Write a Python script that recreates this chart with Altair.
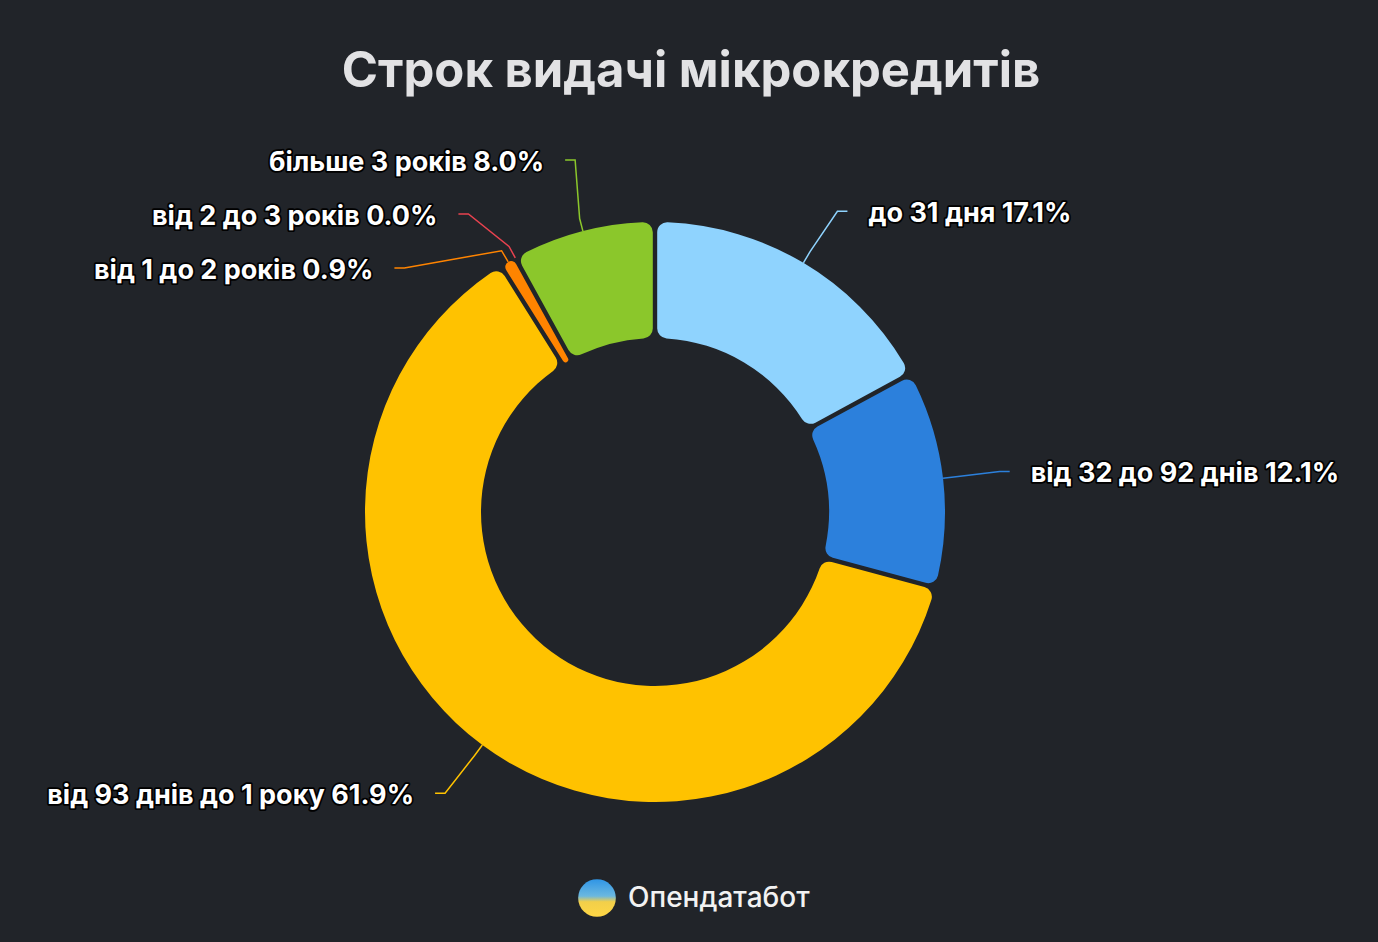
import math
import altair as alt
import pandas as pd

# ---------------- data ----------------
categories = [
    "до 31 дня",
    "від 32 до 92 днів",
    "від 93 днів до 1 року",
    "від 1 до 2 років",
    "від 2 до 3 років",
    "більше 3 років",
]
values = [17.1, 12.1, 61.9, 0.9, 0.0, 8.0]
colors = ["#8fd3fe", "#2c80dc", "#ffc200", "#ff8400", "#e8424f", "#8bc72b"]
title_text = "Строк видачі мікрокредитів"
brand_text = "Опендатабот"

# ---------------- layout ----------------
W, H = 1378, 942
BG = "#212429"
CX, CY = 655, 512
R_OUT, R_IN = 290, 174
R_BREAK = 303
R_LABEL_Y = 350
R_LABEL_X = 357
SPACING = 54
TOP_LIMIT = 160
BOTTOM_LIMIT = 840
CROOK = 10
TEXT_GAP = 21
FONT = "Inter"

total = sum(values)
mids = []
cum = 0.0
for v in values:
    a0 = cum / total * 2 * math.pi
    cum += v
    a1 = cum / total * 2 * math.pi
    mids.append((a0 + a1) / 2)


def distribute(targets, gap, lo, hi):
    """targets: list of (idx, natural_y) sorted by y. Returns dict idx->y."""
    clusters = [[t] for t in targets]

    def place(cl):
        n = len(cl)
        center = sum(t[1] for t in cl) / n
        start = center - (n - 1) * gap / 2
        start = max(lo, min(start, hi - (n - 1) * gap))
        return start

    changed = True
    while changed:
        changed = False
        starts = [place(c) for c in clusters]
        for i in range(len(clusters) - 1):
            if starts[i] + len(clusters[i]) * gap > starts[i + 1]:
                clusters[i] = clusters[i] + clusters[i + 1]
                del clusters[i + 1]
                changed = True
                break
    out = {}
    for c in clusters:
        s = place(c)
        for k, t in enumerate(c):
            out[t[0]] = s + k * gap
    return out


natural = [CY - R_LABEL_Y * math.cos(m) for m in mids]
left_idx = sorted([i for i, m in enumerate(mids) if math.sin(m) < 0], key=lambda i: natural[i])
right_idx = sorted([i for i, m in enumerate(mids) if math.sin(m) >= 0], key=lambda i: natural[i])
label_y = {}
label_y.update(distribute([(i, natural[i]) for i in left_idx], SPACING, TOP_LIMIT, BOTTOM_LIMIT))
label_y.update(distribute([(i, natural[i]) for i in right_idx], SPACING, TOP_LIMIT, BOTTOM_LIMIT))

line_rows = []
text_rows = []
for i, (cat, v, m) in enumerate(zip(categories, values, mids)):
    left = math.sin(m) < 0
    sgn = -1 if left else 1
    y = label_y[i]
    dy_use = min(abs(y - CY), (abs(natural[i] - CY) + abs(y - CY)) / 2)
    ax = CX + sgn * math.sqrt(max(R_LABEL_X ** 2 - dy_use ** 2, 0))
    pts = [
        (ax, y),
        (ax - sgn * CROOK, y),
        (CX + R_BREAK * math.sin(m), CY - R_BREAK * math.cos(m)),
        (CX + R_OUT * math.sin(m), CY - R_OUT * math.cos(m)),
    ]
    for k, (px, py) in enumerate(pts):
        line_rows.append({"cat": cat, "x": px, "y": py, "ord": k})
    text_rows.append({
        "cat": cat,
        "label": f"{cat} {v:.1f}%",
        "x": ax + sgn * TEXT_GAP,
        "y": y + 3,
        "align": "left" if not left else "right",
    })

arc_df = pd.DataFrame({"cat": categories, "value": values, "ord": list(range(len(values)))})
line_df = pd.DataFrame(line_rows)
text_df = pd.DataFrame(text_rows)

color_scale = alt.Scale(domain=categories, range=colors)
xs = alt.Scale(domain=[0, W], range=[0, W])
ys = alt.Scale(domain=[0, H], range=[0, H])

arcs = alt.Chart(arc_df).mark_arc(
    innerRadius=R_IN, outerRadius=R_OUT, cornerRadius=10, padAngle=0.013
).encode(
    theta=alt.Theta("value:Q", stack=True),
    order=alt.Order("ord:Q"),
    color=alt.Color("cat:N", scale=color_scale, legend=None),
    x=alt.value(CX),
    y=alt.value(CY),
)

lines = alt.Chart(line_df).mark_line(strokeWidth=1.5).encode(
    x=alt.X("x:Q", scale=xs, axis=None),
    y=alt.Y("y:Q", scale=ys, axis=None),
    color=alt.Color("cat:N", scale=color_scale, legend=None),
    order=alt.Order("ord:Q"),
)

def label_layer(side, outline):
    d = text_df[text_df["align"] == side]
    kw = dict(align=side, baseline="middle", font=FONT, fontSize=27, fontWeight="bold")
    if outline:
        kw.update(stroke="#000000", strokeWidth=3.5, strokeJoin="round", fill="#000000")
    else:
        kw.update(fill="#ffffff")
    return alt.Chart(d).mark_text(**kw).encode(
        x=alt.X("x:Q", scale=xs, axis=None),
        y=alt.Y("y:Q", scale=ys, axis=None),
        text="label:N",
    )

title = alt.Chart(pd.DataFrame({"t": [title_text]})).mark_text(
    font=FONT, fontSize=49, fontWeight="bold", color="#e2e2e4", align="center", baseline="middle"
).encode(x=alt.value(691), y=alt.value(72), text="t:N")

logo_grad = alt.LinearGradient(
    gradient="linear",
    stops=[
        alt.GradientStop(offset=0, color="#2f95e6"),
        alt.GradientStop(offset=0.45, color="#6bb8e0"),
        alt.GradientStop(offset=0.6, color="#f2cf4a"),
        alt.GradientStop(offset=1, color="#ffd745"),
    ],
    x1=0, x2=0, y1=0, y2=1,
)
logo = alt.Chart(pd.DataFrame({"t": [brand_text]})).mark_point(
    shape="circle", size=1420, fill=logo_grad, filled=True, opacity=1, strokeWidth=0
).encode(x=alt.value(597), y=alt.value(898))

brand = alt.Chart(pd.DataFrame({"t": [brand_text]})).mark_text(
    font=FONT, fontSize=28, fontWeight=500, color="#f2f2f2", align="left", baseline="middle"
).encode(x=alt.value(628), y=alt.value(899), text="t:N")

chart = alt.layer(
    arcs, lines,
    label_layer("left", True), label_layer("right", True),
    label_layer("left", False), label_layer("right", False),
    title, logo, brand,
).properties(
    width=W, height=H, padding=0, background=BG,
    autosize=alt.AutoSizeParams(type="none"),
).configure_view(stroke=None)

chart.save("out.html", embed_options={"renderer": "svg", "actions": False})
